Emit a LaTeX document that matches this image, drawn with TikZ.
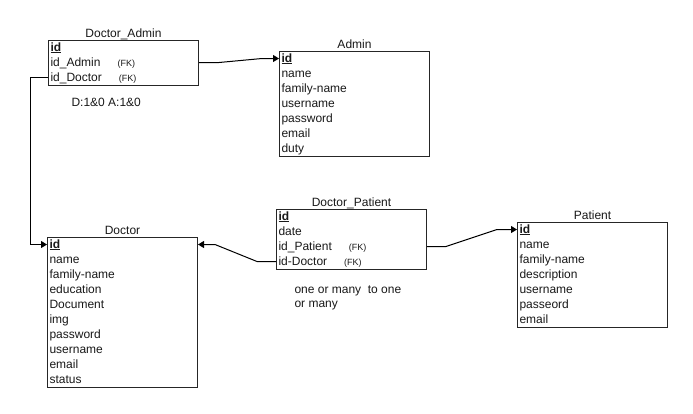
\documentclass[tikz,border=0pt]{standalone}
\usepackage{fontspec}
\setmainfont{Liberation Sans}
\usetikzlibrary{positioning,arrows.meta}
\newcommand\fk{\hspace{17bp}{\fontsize{9bp}{10bp}\selectfont(FK)}}
\newcommand\pk{\underline{\textbf{id}}}

\begin{document}
\begin{tikzpicture}[
    x=1bp, y=-1bp,
    every node/.style={font=\fontsize{12bp}{15bp}\selectfont, text=black!90},
    table/.style={draw=black!85, line width=1bp, anchor=north west, align=left, text width=146bp,
                  inner xsep=2bp, inner ysep=0pt, execute at begin node=\strut, execute at end node=\strut},
    title/.style={inner sep=0pt, text depth=0pt},
    link/.style={draw=black, line width=1bp, -{Triangle[length=6bp, width=7bp]}}
]
    \path[use as bounding box, fill=white] (0,0) rectangle (693,413);

    % Tables
    \node[table] (docadmin) at (48,40) {\pk\\ id\_Admin\fk\\ id\_Doctor\fk};
    \node[table] (admin) at (279,51) {\pk\\ name\\ family-name\\ username\\ password\\ email\\ duty};
    \node[table] (doctor) at (47,237) {\pk\\ name\\ family-name\\ education\\ Document\\ img\\ password\\ username\\ email\\ status};
    \node[table] (docpat) at (276,209) {\pk\\ date\\ id\_Patient\fk\\ id-Doctor\fk};
    \node[table] (patient) at (517,222) {\pk\\ name\\ family-name\\ description\\ username\\ passeord\\ email};

    % Titles
    \node[title, above=2.5bp of docadmin] (docadmin-t) {Doctor\_Admin};
    \node[title, above=2.5bp of admin] (admin-t) {Admin};
    \node[title, above=2.5bp of doctor] (doctor-t) {Doctor};
    \node[title, above=2.5bp of docpat] (docpat-t) {Doctor\_Patient};
    \node[title, above=2.5bp of patient] (patient-t) {Patient};

    % Relations
    \draw[link] ([yshift=-22.5bp]docadmin.north east) -- ++(20,0)
        -- ([xshift=-17bp, yshift=-7.5bp]admin.north west) -- ([yshift=-7.5bp]admin.north west);
    \draw[link] ([yshift=-37.5bp]docadmin.north west) -- ++(-18,0) |- ([yshift=-7.5bp]doctor.north west);
    \draw[link] ([yshift=-52.5bp]docpat.north west) -- ++(-19,0)
        -- ([xshift=17bp, yshift=-7.5bp]doctor.north east) -- ([yshift=-7.5bp]doctor.north east);
    \draw[link] ([yshift=-37.5bp]docpat.north east) -- ++(19,0)
        -- ([xshift=-20bp, yshift=-7.5bp]patient.north west) -- ([yshift=-7.5bp]patient.north west);

    % Cardinalities
    \node[anchor=west] (card-da) at (68,102) {D:1\&0 A:1\&0};
    \node[anchor=west, align=left, font=\fontsize{12bp}{14bp}\selectfont] (card-dp) at (291,298) {one or many\ \ to one\\or many};
\end{tikzpicture}
\end{document}
